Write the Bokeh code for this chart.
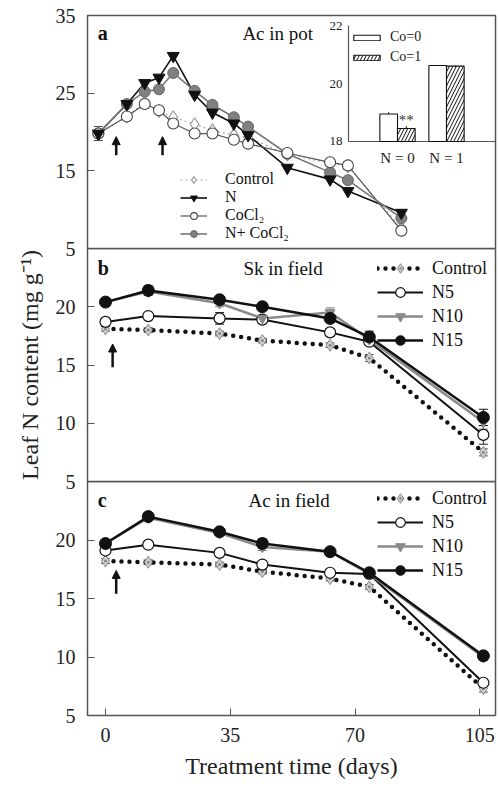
from bokeh.plotting import figure
from bokeh.layouts import column
from bokeh.models import (Range1d, FixedTicker, Legend, LegendItem, Label, Arrow,
                          NormalHead, Whisker, TeeHead, ColumnDataSource)
from bokeh.embed import file_html
from bokeh.resources import INLINE
from bokeh.core.properties import value

FONT = "Liberation Serif"

# ---------------- data ----------------
# panel a : Ac in pot
days_a = [-2, 6, 11, 15, 19, 25, 30, 36, 40, 51, 63, 68, 83]
a_control = [19.8, 22.0, 23.8, 22.7, 21.9, 21.0, 20.2, 19.6, 19.3, 17.1, 16.0, 15.6, 7.6]
a_n = [19.8, 23.6, 26.3, 27.0, 29.8, 24.8, 22.5, 21.1, 19.6, 15.4, 13.9, 12.4, 9.6]
a_cocl2 = [19.8, 22.0, 23.6, 22.8, 21.1, 19.8, 19.8, 19.0, 18.5, 17.3, 16.1, 15.7, 7.3]
a_ncocl2 = [19.8, 23.6, 25.2, 25.5, 27.6, 25.3, 23.5, 21.9, 20.7, 17.2, 14.8, 13.8, 8.9]
a_cocl2_err = [0.9, 0, 0.5, 0, 0, 0, 0, 0, 0, 0, 0, 0.5, 0]
arrow_days_a = [3, 16]

# inset (panel a)
inset_groups = ["N = 0", "N = 1"]
inset_co0 = [18.95, 20.62]
inset_co1 = [18.45, 20.60]
inset_co0_err = [0.06, 0.02]
inset_co1_err = [0.08, 0.03]
inset_ticks = [18, 20, 22]

# panels b, c : field
days_f = [0, 12, 32, 44, 63, 74, 106]
b_control = [18.1, 18.0, 17.7, 17.1, 16.7, 15.6, 7.5]
b_n5 = [18.7, 19.2, 19.0, 18.9, 17.8, 17.0, 9.0]
b_n10 = [20.4, 21.3, 20.3, 19.0, 19.5, 17.2, 10.1]
b_n15 = [20.4, 21.4, 20.6, 20.0, 19.0, 17.4, 10.5]
b_control_err = [0.2, 0.2, 0.2, 0.2, 0.2, 0.3, 0.3]
b_n5_err = [0.2, 0.2, 0.5, 0.3, 0.3, 0.3, 0.8]
b_n10_err = [0.2, 0.2, 0.3, 0.3, 0.4, 0.3, 0.6]
b_n15_err = [0.3, 0.4, 0.3, 0.3, 0.3, 0.5, 0.7]
arrow_days_b = [2]

c_control = [18.2, 18.1, 17.9, 17.3, 16.7, 16.0, 7.3]
c_n5 = [19.1, 19.6, 18.9, 17.9, 17.2, 17.1, 7.8]
c_n10 = [19.7, 21.9, 20.6, 19.4, 19.0, 17.1, 10.0]
c_n15 = [19.7, 22.0, 20.7, 19.7, 19.0, 17.2, 10.1]
c_control_err = [0.2, 0.2, 0.2, 0.2, 0.2, 0.2, 0.3]
c_n5_err = [0.2, 0.2, 0.2, 0.2, 0.2, 0.2, 0.3]
c_n10_err = [0.2, 0.2, 0.2, 0.3, 0.2, 0.2, 0.3]
c_n15_err = [0.2, 0.2, 0.2, 0.4, 0.2, 0.2, 0.3]
arrow_days_c = [3]

x_ticks = [0, 35, 70, 105]

X_LIM = (-5.05, 109.4)
EDGE = "#555555"


def make_fig(height, y_top, yticks, top, bottom, xaxis=False, margin=None, transparent=False):
    p = figure(width=498, height=height, x_range=Range1d(*X_LIM), y_range=Range1d(5, y_top),
               output_backend="svg", toolbar_location=None,
               x_axis_location="below" if xaxis else None,
               min_border_left=87, min_border_right=3, min_border_top=top,
               min_border_bottom=bottom)
    if margin is not None:
        p.margin = margin
    p.grid.visible = False
    p.outline_line_color = EDGE
    p.outline_line_width = 1.5
    if transparent:
        p.border_fill_color = None
        p.background_fill_color = None
    ax = p.yaxis[0]
    ax.ticker = FixedTicker(ticks=yticks, minor_ticks=[])
    ax.major_tick_in = 7
    ax.major_tick_out = 0
    ax.minor_tick_in = 0
    ax.minor_tick_out = 0
    ax.axis_line_color = EDGE
    ax.major_tick_line_color = EDGE
    ax.major_label_text_font = FONT
    ax.major_label_text_font_size = "20px"
    ax.major_label_text_color = "#222222"
    ax.major_label_standoff = 12
    if xaxis:
        xa = p.xaxis[0]
        xa.ticker = FixedTicker(ticks=x_ticks, minor_ticks=[])
        xa.major_tick_in = 7
        xa.major_tick_out = 0
        xa.axis_line_color = EDGE
        xa.major_tick_line_color = EDGE
        xa.major_label_text_font = FONT
        xa.major_label_text_font_size = "20px"
        xa.major_label_text_color = "#222222"
        xa.major_label_standoff = 12
        xa.axis_label = "Treatment time (days)"
        xa.axis_label_text_font = FONT
        xa.axis_label_text_font_size = "24px"
        xa.axis_label_text_font_style = "normal"
        xa.axis_label_text_color = "#222222"
        xa.axis_label_standoff = 8
    return p


def whiskers(p, xs, ys, errs, color):
    pts = [(x, y, e) for x, y, e in zip(xs, ys, errs) if e > 0]
    src = ColumnDataSource(dict(x=[q[0] for q in pts],
                                u=[q[1] + q[2] for q in pts],
                                l=[q[1] - q[2] for q in pts]))
    w = Whisker(source=src, base="x", upper="u", lower="l", line_color=color, line_width=1,
                upper_head=TeeHead(size=9, line_color=color, line_width=1),
                lower_head=TeeHead(size=9, line_color=color, line_width=1))
    p.add_layout(w)


def panel_text(p, x, y, letter, title):
    p.add_layout(Label(x=-2.2, y=y, text=letter, text_font=FONT, text_font_size="20px",
                       text_font_style="bold", text_baseline="middle", text_color="#111111"))
    p.add_layout(Label(x=x, y=y, text=title, text_font=FONT, text_font_size="19px",
                       text_baseline="middle", text_color="#111111"))


def arrows(p, days, y0, y1):
    for d in days:
        p.add_layout(Arrow(x_start=d, y_start=y0, x_end=d, y_end=y1, line_width=2.5,
                           line_color="#111111",
                           end=NormalHead(size=8, fill_color="#111111", line_color="#111111")))


# ---------------- panel a ----------------
pa = make_fig(260, 35, [5, 15, 25, 35], 15, 12)

la1 = pa.line(days_a, a_control, line_color="#aaaaaa", line_width=1.2, line_dash="2 3")
la2 = pa.line(days_a, a_n, line_color="#111111", line_width=1.6)
la3 = pa.line(days_a, a_cocl2, line_color="#555555", line_width=1.2)
la4 = pa.line(days_a, a_ncocl2, line_color="#777777", line_width=1.6)
whiskers(pa, days_a, a_cocl2, a_cocl2_err, "#444444")
sa1 = pa.scatter(days_a, a_control, marker="diamond", size=13, fill_color="white",
                 line_color="#999999", line_width=1.2)
sa4 = pa.scatter(days_a, a_ncocl2, marker="circle", size=11, fill_color="#808080",
                 line_color="#666666")
sa3 = pa.scatter(days_a, a_cocl2, marker="circle", size=11, fill_color="white",
                 line_color="#444444", line_width=1.1)
sa2 = pa.scatter(days_a, a_n, marker="inverted_triangle", size=12, fill_color="#111111",
                 line_color="#111111")

leg_a = Legend(items=[LegendItem(label="Control", renderers=[la1, sa1]),
                      LegendItem(label="N", renderers=[la2, sa2]),
                      LegendItem(label="CoCl₂", renderers=[la3, sa3]),
                      LegendItem(label="N+ CoCl₂", renderers=[la4, sa4])],
               location=(93, 6), glyph_width=27, glyph_height=17, label_height=17,
               spacing=0, label_standoff=18, padding=0, margin=0,
               border_line_color=None, background_fill_alpha=0,
               label_text_font=FONT, label_text_font_size="16px", label_text_color="#111111")
pa.add_layout(leg_a)

panel_text(pa, 38.4, 32.7, "a", "Ac in pot")
arrows(pa, arrow_days_a, 17.0, 19.4)

# inset bar chart, on its own ranges inside panel a
pa.extra_x_ranges = {"ix": Range1d(-6.327, 2.0)}
pa.extra_y_ranges = {"iy": Range1d(14.31, 22.345)}
INSET_AXIS_X = -1.0
BW = 0.36
gx = list(range(len(inset_groups)))
pa.segment(x0=[INSET_AXIS_X], y0=[min(inset_ticks)], x1=[INSET_AXIS_X], y1=[max(inset_ticks)],
           line_color=EDGE, line_width=1.2, x_range_name="ix", y_range_name="iy")
pa.segment(x0=[INSET_AXIS_X], y0=[min(inset_ticks)], x1=[2.0], y1=[min(inset_ticks)],
           line_color=EDGE, line_width=1.2, x_range_name="ix", y_range_name="iy")
pa.text(x=[INSET_AXIS_X] * len(inset_ticks), y=inset_ticks, text=[str(t) for t in inset_ticks],
        x_offset=-6, text_align="right", text_baseline="middle",
        text_font=value(FONT), text_font_size=value("13px"), text_color="#222222",
        x_range_name="ix", y_range_name="iy")
rb0 = pa.vbar(x=[g - BW / 2 for g in gx], width=BW, bottom=min(inset_ticks), top=inset_co0,
              fill_color="white", line_color="#111111", line_width=1.1,
              x_range_name="ix", y_range_name="iy")
rb1 = pa.vbar(x=[g + BW / 2 for g in gx], width=BW, bottom=min(inset_ticks), top=inset_co1,
              fill_color="white", line_color="#111111", line_width=1.1,
              hatch_pattern="/", hatch_color="#111111", hatch_weight=1, hatch_scale=7,
              x_range_name="ix", y_range_name="iy")
for xs, tops, errs in [([g - BW / 2 for g in gx], inset_co0, inset_co0_err),
                       ([g + BW / 2 for g in gx], inset_co1, inset_co1_err)]:
    pa.segment(x0=xs, y0=tops, x1=xs, y1=[t + e for t, e in zip(tops, errs)],
               line_color="#111111", line_width=1, x_range_name="ix", y_range_name="iy")
pa.text(x=gx, y=[min(inset_ticks)] * len(gx), text=inset_groups, y_offset=9,
        text_align="center", text_baseline="top", text_font=value(FONT),
        text_font_size=value("15px"), text_color="#222222",
        x_range_name="ix", y_range_name="iy")
pa.text(x=[gx[0] + BW / 2], y=[inset_co1[0] + inset_co1_err[0]], text=["**"], y_offset=2,
        text_align="center", text_baseline="bottom", text_font=value(FONT),
        text_font_size=value("15px"), text_color="#333333",
        x_range_name="ix", y_range_name="iy")
leg_i = Legend(items=[LegendItem(label="Co=0", renderers=[rb0]),
                      LegendItem(label="Co=1", renderers=[rb1])],
               location=(263, 181), glyph_width=33, glyph_height=7, label_height=20,
               spacing=0, label_standoff=7, padding=0, margin=0,
               border_line_color=None, background_fill_alpha=0,
               label_text_font=FONT, label_text_font_size="14px", label_text_color="#222222")
pa.add_layout(leg_i)


# ---------------- panels b, c ----------------
def field_panel(p, ctrl, n5, n10, n15, errs, legend_loc):
    l1 = p.line(days_f, ctrl, line_color="#111111", line_width=4.5, line_dash="0 8",
                line_cap="round")
    l2 = p.line(days_f, n5, line_color="#111111", line_width=2)
    l3 = p.line(days_f, n10, line_color="#8a8a8a", line_width=2.5)
    l4 = p.line(days_f, n15, line_color="#111111", line_width=2.5)
    whiskers(p, days_f, ctrl, errs[0], "#555555")
    whiskers(p, days_f, n5, errs[1], "#222222")
    whiskers(p, days_f, n10, errs[2], "#777777")
    whiskers(p, days_f, n15, errs[3], "#111111")
    s1 = p.scatter(days_f, ctrl, marker="diamond_dot", size=12, fill_color="#d0d0d0",
                   line_color="#888888")
    s2 = p.scatter(days_f, n5, marker="circle", size=11, fill_color="white",
                   line_color="#111111", line_width=1.2)
    s3 = p.scatter(days_f, n10, marker="inverted_triangle", size=10, fill_color="#8a8a8a",
                   line_color="#8a8a8a")
    s4 = p.scatter(days_f, n15, marker="circle", size=12, fill_color="#111111",
                   line_color="#111111")
    leg = Legend(items=[LegendItem(label="Control", renderers=[l1, s1]),
                        LegendItem(label="N5", renderers=[l2, s2]),
                        LegendItem(label="N10", renderers=[l3, s3]),
                        LegendItem(label="N15", renderers=[l4, s4])],
                 location=legend_loc, glyph_width=46, glyph_height=24, label_height=24,
                 spacing=0, label_standoff=9, padding=0, margin=0,
                 border_line_color=None, background_fill_alpha=0,
                 label_text_font=FONT, label_text_font_size="18px", label_text_color="#111111")
    p.add_layout(leg)


pb = make_fig(245, 25, [5, 10, 15, 20], 0, 12, margin=(-12, 0, 0, 0), transparent=True)
field_panel(pb, b_control, b_n5, b_n10, b_n15,
            [b_control_err, b_n5_err, b_n10_err, b_n15_err], (290, 129))
panel_text(pb, 38.7, 23.3, "b", "Sk in field")
arrows(pb, arrow_days_b, 14.8, 16.8)
yb = pb.yaxis[0]
yb.axis_label = "Leaf N content (mg g⁻¹)"
yb.axis_label_text_font = FONT
yb.axis_label_text_font_size = "24px"
yb.axis_label_text_font_style = "normal"
yb.axis_label_text_color = "#222222"
yb.axis_label_standoff = 10

pc = make_fig(310, 25, [5, 10, 15, 20], 0, 76, xaxis=True, margin=(-12, 0, 0, 0),
              transparent=True)
field_panel(pc, c_control, c_n5, c_n10, c_n15,
            [c_control_err, c_n5_err, c_n10_err, c_n15_err], (290, 133))
panel_text(pc, 40.1, 23.4, "c", "Ac in field")
arrows(pc, arrow_days_c, 15.4, 17.4)

layout = column(pa, pb, pc, spacing=0)
open("out.html", "w").write(file_html(layout, INLINE))
